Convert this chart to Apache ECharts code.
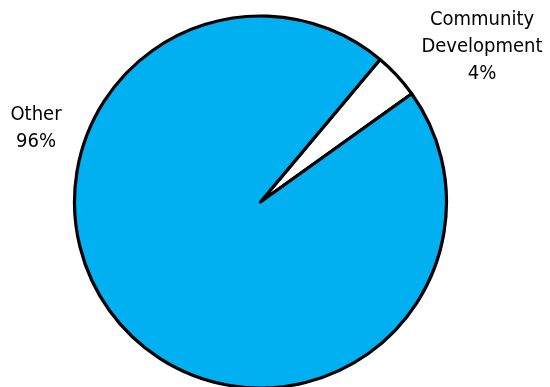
<!DOCTYPE html>
<html><head><meta charset="utf-8">
<script src="https://cdn.jsdelivr.net/npm/echarts@6/dist/echarts.min.js"></script>
<style>html,body{margin:0;padding:0;background:#fff}#c{width:550px;height:387px}</style>
</head><body><div id="c"></div>
<script>
const categories = ['Community\nDevelopment', 'Other'];
const values = [4, 96];
const colors = ['#FFFFFF', '#00B0F0'];
const labelPos = [[482, 47], [36, 128]];

const chart = echarts.init(document.getElementById('c'), null, {renderer: 'canvas'});
chart.setOption({
  animation: false,
  series: [{
    type: 'pie',
    center: [260.5, 202],
    radius: 186,
    startAngle: 50,
    clockwise: true,
    avoidLabelOverlap: false,
    data: categories.map((n, i) => ({name: n, value: values[i], itemStyle: {color: colors[i]}})),
    itemStyle: {borderColor: '#000', borderWidth: 3.2},
    label: {
      show: true,
      formatter: p => p.name + '\n' + Math.round(p.percent) + '%',
      fontFamily: '"DejaVu Sans Condensed", "Liberation Sans", sans-serif',
      fontSize: 20,
      lineHeight: 27,
      color: '#000',
      align: 'center'
    },
    labelLine: {show: false},
    labelLayout: p => ({x: labelPos[p.dataIndex][0], y: labelPos[p.dataIndex][1], align: 'center', verticalAlign: 'middle'})
  }]
});
</script></body></html>
